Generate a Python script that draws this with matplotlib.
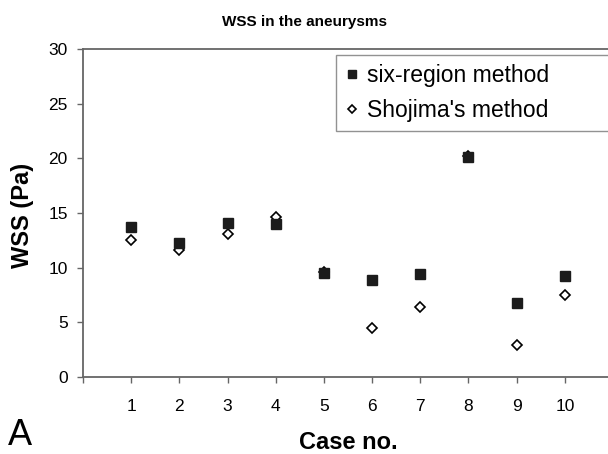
import matplotlib.pyplot as plt
import numpy as np

plt.rcParams['font.family'] = ['Liberation Sans', 'DejaVu Sans']

cases = [1, 2, 3, 4, 5, 6, 7, 8, 9, 10]
six_region = [13.7, 12.3, 14.1, 14.0, 9.5, 8.9, 9.4, 20.1, 6.8, 9.2]
shojima = [12.5, 11.6, 13.1, 14.6, 9.6, 4.5, 6.4, 20.2, 2.9, 7.5]
xtick_labels = ['', '1', '2', '3', '4', '5', '6', '7', '8', '9', '10', '']

fig = plt.figure(figsize=(6.08, 4.54), dpi=100)
ax = fig.add_axes([83 / 608, 77 / 454, 530 / 608, 328 / 454])

# diamonds under the squares
l2, = ax.plot(cases, shojima, linestyle='none', marker='D', markersize=4.6,
              markerfacecolor='white', markeredgecolor='black',
              markeredgewidth=1.2, zorder=2)
l1, = ax.plot(cases, six_region, linestyle='none', marker='s', markersize=7.6,
              color='#1c1c1c', zorder=3)

ax.set_xlim(0, 11)
ax.set_ylim(0, 30)
ax.set_yticks(np.arange(0, 31, 5))
ax.set_xticks(np.arange(0, 12))
ax.set_xticklabels(xtick_labels)

for side in ['left', 'bottom', 'top']:
    ax.spines[side].set_color('#666666')
    ax.spines[side].set_linewidth(1.3)
ax.spines['right'].set_visible(False)

ax.tick_params(axis='y', direction='out', length=4, width=1, color='#666666',
               labelsize=12.5, pad=7)
ax.tick_params(axis='x', direction='out', length=4, width=1, color='#666666',
               labelsize=12.5, pad=12)

fig.text(0.5, 1 - 26 / 454, 'WSS in the aneurysms', ha='center',
         va='baseline', fontsize=11, fontweight='bold')
fig.text(23 / 608, 1 - 215 / 454, 'WSS (Pa)', ha='center', va='center',
         rotation=90, fontsize=17, fontweight='bold')
fig.text(348 / 608, 1 - 449 / 454, 'Case no.', ha='center', va='baseline',
         fontsize=17, fontweight='bold')
fig.text(8 / 608, 1 - 445 / 454, 'A', ha='left', va='baseline', fontsize=26)

leg = fig.legend([l1, l2], ['six-region method', "Shojima's method"],
                 loc='upper left',
                 bbox_to_anchor=(336 / 608, 1 - 128 / 454, 290 / 608, 73 / 454),
                 mode='expand', fontsize=16.5, frameon=True, fancybox=False,
                 edgecolor='#777777', borderaxespad=0, borderpad=0.4,
                 handlelength=0.6, handletextpad=0.35, labelspacing=0.5,
                 markerscale=0.8)
leg.get_frame().set_linewidth(1.0)

plt.savefig('out.png', dpi=100)
